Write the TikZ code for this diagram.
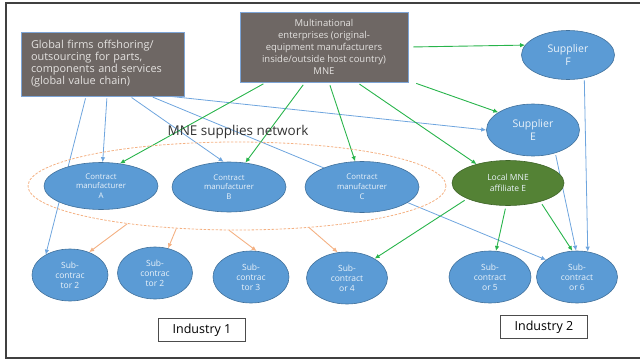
\documentclass[tikz,border=0pt]{standalone}
\usepackage{fontspec}
\setmainfont{Open Sans}
\usetikzlibrary{shapes.geometric,arrows.meta}

\pgfdeclarelayer{background}
\pgfsetlayers{background,main}

\definecolor{boxgray}{RGB}{110,103,100}
\definecolor{boxedge}{RGB}{125,165,215}
\definecolor{ellblue}{RGB}{91,155,213}
\definecolor{ellblueedge}{RGB}{65,113,156}
\definecolor{ellgreen}{RGB}{84,130,53}
\definecolor{ellgreenedge}{RGB}{62,100,40}
\definecolor{linkblue}{RGB}{110,165,222}
\definecolor{linkgreen}{RGB}{40,180,75}
\definecolor{linkorange}{RGB}{244,177,131}
\definecolor{paletext}{RGB}{228,226,224}

\begin{document}
\begin{tikzpicture}[x=1pt,y=-1pt,
  firmbox/.style={rectangle, fill=boxgray, draw=boxedge, line width=0.8pt,
    text=paletext, font=\fontsize{9.5}{12}\selectfont, inner sep=0pt},
  unit/.style={ellipse, fill=ellblue, draw=ellblueedge, line width=0.6pt,
    text=white!88!ellblue, align=center, inner sep=0pt},
  affil/.style={unit, fill=ellgreen, draw=ellgreenedge},
  industry/.style={rectangle, draw=black!70, line width=0.7pt, fill=white,
    font=\fontsize{12.5}{14}\selectfont, minimum width=87pt, minimum height=23pt},
  bluelink/.style={draw=linkblue, line width=0.8pt, -{Latex[length=5pt,width=4.5pt]}, shorten <=2pt},
  greenlink/.style={draw=linkgreen, line width=0.9pt, -{Latex[length=5pt,width=4.5pt]}, shorten <=3pt},
  orangelink/.style={draw=linkorange, line width=0.9pt, -{Latex[length=5pt,width=4.5pt]}}
]
\useasboundingbox (0,0) rectangle (640,359);

% frame
\draw[black!75, line width=1.2pt] (640,3) -- (6,3) -- (6,358) -- (640,358);

% top boxes
\node[firmbox, minimum width=163pt, minimum height=64pt, align=left, text width=143pt,
  font=\fontsize{10.9}{12}\selectfont] (glob) at (102.5,64)
  {Global firms offshoring/\\outsourcing for parts,\\components and services\\(global value chain)};
\node[firmbox, minimum width=168pt, minimum height=70pt, align=center] (mne) at (324,47)
  {Multinational\\enterprises (original-\\equipment manufacturers\\inside/outside host country)\\MNE};

% network ring
\node[ellipse, draw=linkorange, dash pattern=on 2.5pt off 1.5pt, line width=0.8pt,
  minimum width=418pt, minimum height=88pt] (net) at (237,186) {};
\node[font=\fontsize{13.5}{15}\selectfont, text=black!80] (netlabel) at (238,132) {MNE supplies network};

% suppliers and affiliate
\node[unit, minimum width=93pt, minimum height=49pt, font=\fontsize{10.5}{13}\selectfont] (supF) at (568,55) {Supplier\\F};
\node[unit, minimum width=93pt, minimum height=52pt, font=\fontsize{10.5}{13}\selectfont] (supE) at (533,130) {Supplier\\E};
\node[affil, minimum width=112pt, minimum height=45pt, font=\fontsize{8.5}{11.5}\selectfont] (locE) at (508,183) {Local MNE\\affiliate E};

% contract manufacturers
\foreach \nm/\x/\y/\h/\lt in {cmA/101/186/47/A, cmB/229/187/50/B, cmC/362/187/51/C}
{
  \node[unit, minimum width=114pt, minimum height=\h pt, font=\fontsize{7.8}{9.8}\selectfont] (\nm) at (\x,\y)
    {Contract\\manufacturer\\\lt};
}

% sub-contractors
\foreach \nm/\x/\y/\w/\txt in {subA/70/275/76/{Sub-\\contrac\\tor 2}, subB/155/273/75/{Sub-\\contrac\\tor 2},
  subC/251/277/76/{Sub-\\contrac\\tor 3}, subD/347/278/81/{Sub-\\contract\\or 4},
  subE/490/277/82/{Sub-\\contract\\or 5}, subF/577/277/81/{Sub-\\contract\\or 6}}
{
  \node[unit, minimum width=\w pt, minimum height=52pt, font=\fontsize{8.5}{10}\selectfont] (\nm) at (\x,\y) {\txt};
}

% industry labels
\node[industry] (ind1) at (202,330) {Industry 1};
\node[industry] (ind2) at (544,327) {Industry 2};

\begin{pgfonlayer}{background}
  % global value chain links
  \draw[bluelink] ([xshift=-16.5pt]glob.south) -- (subA.140);
  \draw[bluelink] ([xshift=4.5pt]glob.south) -- (cmA.86);
  \draw[bluelink] ([xshift=27.5pt]glob.south) -- (cmB.102);
  \draw[bluelink] ([xshift=48.5pt]glob.south) -- (subF.151);
  \draw[bluelink] ([xshift=68pt]glob.south) -- (supE.west);
  \draw[bluelink] (supF.-55) -- (subF.67);
  \draw[bluelink] (supE.-46) -- (subF.92);

  % MNE links
  \draw[greenlink] ([xshift=-58pt]mne.south) -- (cmA.50);
  \draw[greenlink] ([xshift=-19pt]mne.south) -- (cmB.56);
  \draw[greenlink] ([xshift=5pt]mne.south) -- (cmC.105);
  \draw[greenlink] ([xshift=33pt]mne.south) -- (locE.149);
  \draw[greenlink] ([xshift=2pt]mne.east) -- (supF.167);
  \draw[greenlink] ([xshift=5pt]mne.south east) -- (supE.153);
  \draw[greenlink] (locE.201) -- (subD.35);
  \draw[greenlink] (locE.-95) -- (subE.77);
  \draw[greenlink] (locE.-30) -- (subF.100);

  % network to sub-contractors
  \draw[orangelink] (net.199) -- (subA.50);
  \draw[orangelink] (net.215) -- (subB.62);
  \draw[orangelink] (net.260) -- (subC.78);
  \draw[orangelink] (net.-30) -- (subD.110);
\end{pgfonlayer}

\end{tikzpicture}
\end{document}
